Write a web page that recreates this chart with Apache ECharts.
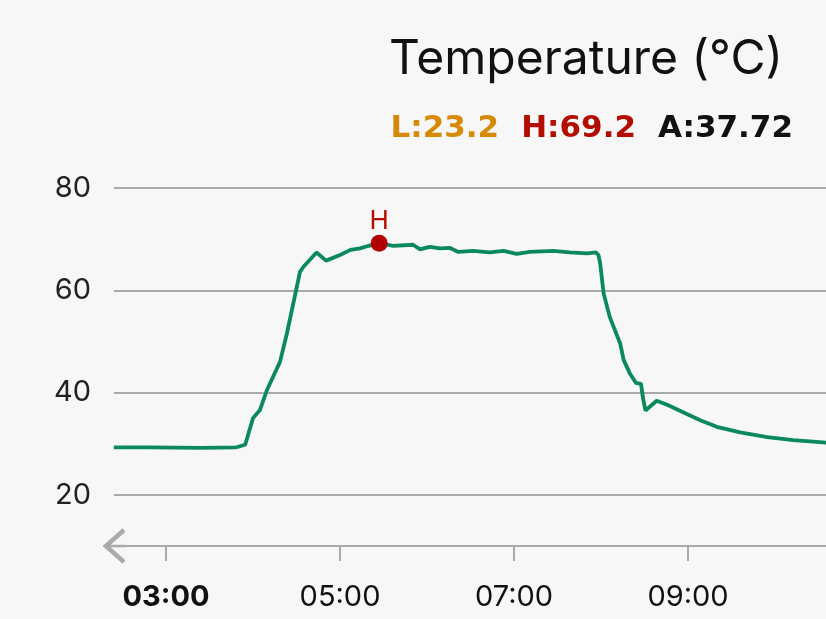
<!DOCTYPE html>
<html>
<head>
<meta charset="utf-8">
<script src="https://cdn.jsdelivr.net/npm/echarts@6/dist/echarts.min.js"></script>
<style>
  html, body { margin: 0; padding: 0; background: #f7f7f7; }
  #chart { width: 826px; height: 619px; }
</style>
</head>
<body>
<div id="chart"></div>
<script>
// time in hours of day, temperature in °C
var hours = [2.40, 2.82, 3.39, 3.81, 3.83, 3.91, 4.00, 4.08, 4.16, 4.31, 4.39, 4.54, 4.58, 4.73, 4.84,
  5.00, 5.12, 5.23, 5.33, 5.45, 5.61, 5.84, 5.92, 6.03, 6.15, 6.26, 6.36, 6.53, 6.72, 6.88, 7.03,
  7.18, 7.45, 7.64, 7.84, 7.94, 7.97, 7.99, 8.03, 8.10, 8.22, 8.26, 8.33, 8.40, 8.46, 8.48, 8.51,
  8.64, 8.76, 8.95, 9.14, 9.33, 9.60, 9.91, 10.21, 10.59]
var temps = [29.3, 29.3, 29.2, 29.3, 29.1, 29.8, 35.0, 36.6, 40.5, 46.0, 51.6, 63.6, 64.6, 67.4, 65.8,
  66.9, 67.9, 68.2, 68.7, 69.2, 68.7, 68.9, 68.0, 68.5, 68.2, 68.3, 67.5, 67.7, 67.4, 67.7, 67.1,
  67.5, 67.7, 67.4, 67.2, 67.4, 66.9, 65.3, 59.4, 54.8, 49.6, 46.4, 43.8, 41.9, 41.7, 39.2, 36.5,
  38.4, 37.6, 36.1, 34.6, 33.3, 32.2, 31.3, 30.7, 30.2]
var xTicks = [3, 5, 7, 9]
var stats = { low: '23.2', high: '69.2', avg: '37.72' }

var font = 'Inter, "Noto Sans", sans-serif'
var boldFont = '"DejaVu Sans", Inter, sans-serif'

function fmtHour(v) {
  var h = Math.floor(v + 1e-6)
  var m = Math.round((v - h) * 60)
  return (h < 10 ? '0' : '') + h + ':' + (m < 10 ? '0' : '') + m
}

var points = hours.map(function (h, i) { return [h, temps[i]] })

var myChart = echarts.init(document.getElementById('chart'))

var option = {
  backgroundColor: '#f7f7f7',
  animation: false,
  title: [{
    text: 'Temperature (°C)',
    right: 43,
    top: 36,
    padding: 0,
    textStyle: { fontFamily: font, fontSize: 48, fontWeight: 'normal', color: '#111' }
  }, {
    text: '{l|L:' + stats.low + '}{h|H:' + stats.high + '}{a|A:' + stats.avg + '}',
    right: 33,
    top: 113,
    padding: 0,
    textStyle: {
      fontFamily: boldFont,
      fontSize: 31,
      rich: {
        l: { fontFamily: boldFont, fontSize: 31, fontWeight: 'bold', color: '#d68a08' },
        h: { fontFamily: boldFont, fontSize: 31, fontWeight: 'bold', color: '#b30d00', padding: [0, 0, 0, 22] },
        a: { fontFamily: boldFont, fontSize: 31, fontWeight: 'bold', color: '#111', padding: [0, 0, 0, 22] }
      }
    }
  }],
  grid: { left: 114, right: 0, top: 188, bottom: 73 },
  xAxis: {
    type: 'value',
    min: 2.402,
    max: 10.586,
    splitLine: { show: false },
    axisLine: {
      lineStyle: { color: '#aaa', width: 2 },
      symbol: ['path://M15,0L30,17L27,19.5L16,7L16,19.5L14,19.5L14,7L3,19.5L0,17Z', 'none'],
      symbolSize: [36, 23],
      symbolOffset: [0, 0]
    },
    axisTick: {
      customValues: xTicks,
      length: 15,
      lineStyle: { color: '#aaa', width: 2 }
    },
    axisLabel: {
      customValues: xTicks,
      margin: 37,
      fontFamily: font,
      fontSize: 29,
      color: '#111',
      formatter: function (v) {
        var s = fmtHour(v)
        return v === xTicks[0] ? '{b|' + s + '}' : s
      },
      rich: {
        b: { fontFamily: font, fontSize: 29, fontWeight: 'bold', color: '#111' }
      }
    }
  },
  yAxis: {
    type: 'value',
    min: 10,
    max: 80,
    splitNumber: 4,
    axisLine: { show: false },
    axisTick: { show: false },
    splitLine: { lineStyle: { color: '#aaa', width: 2 } },
    axisLabel: {
      showMinLabel: false,
      margin: 23,
      fontFamily: font,
      fontSize: 29,
      color: '#222'
    }
  },
  series: [{
    type: 'line',
    data: points,
    showSymbol: false,
    lineStyle: { color: '#0a8a5a', width: 3.8 },
    itemStyle: { color: '#0a8a5a' },
    markPoint: {
      symbol: 'circle',
      symbolSize: 17,
      itemStyle: { color: '#b00000' },
      label: {
        show: true,
        position: 'top',
        distance: 1,
        formatter: 'H',
        fontFamily: font,
        fontSize: 26,
        color: '#b30d00'
      },
      data: [{ type: 'max' }]
    }
  }]
}

myChart.setOption(option)
</script>
</body>
</html>
